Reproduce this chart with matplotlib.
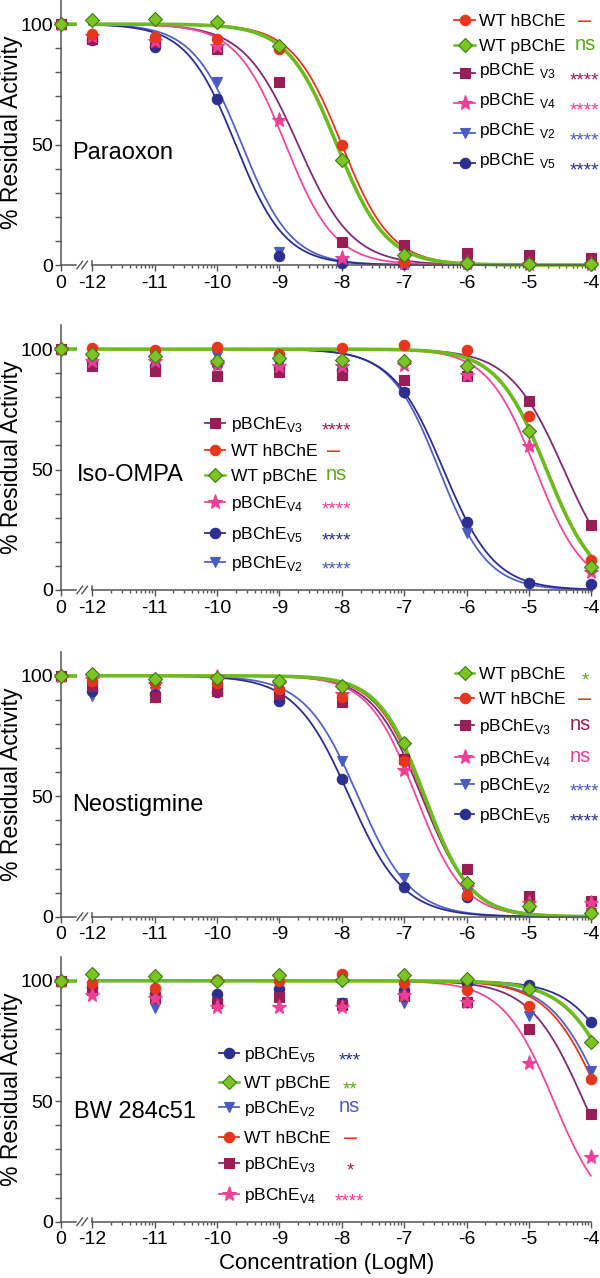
import numpy as np
import matplotlib
matplotlib.use("Agg")
import matplotlib.pyplot as plt
from matplotlib.lines import Line2D
from matplotlib.transforms import Affine2D

plt.rcParams["font.family"] = ["Liberation Sans", "DejaVu Sans"]

W, H = 600, 1278

# log10 molar concentrations; the "0" (no inhibitor) point sits left of the axis break
LOG_CONC = [-12, -11, -10, -9, -8, -7, -6, -5, -4]
ZERO_X = -12.5
X_TICK_LABELS = ["0", "-12", "-11", "-10", "-9", "-8", "-7", "-6", "-5", "-4"]

# % residual activity (one value per LOG_CONC)
PARAOXON = {
    "hB": [96, 94.6, 94, 89.5, 50, 1.4, 0.8, 0.3, 0.3],
    "pB": [101.8, 102, 101, 91, 43.5, 4.1, 1, 0.5, 0.4],
    "V3": [94, 92.5, 89.5, 76, 9.7, 8.3, 5, 4, 3],
    "V4": [95, 93, 91, 60, 2.8, 1, 0.8, 0.3, 0.3],
    "V2": [94, 90.5, 76, 5.5, 1, 0.5, 0.5, 0.5, 0.5],
    "V5": [93.5, 90.5, 69, 3.7, 0.7, 0.3, 0.3, 0.3, 0.3],
}
ISO_OMPA = {
    "hB": [100.4, 99.7, 100.8, 97.9, 100.4, 101.8, 99.7, 72.3, 12.5],
    "pB": [98, 97.2, 94.9, 96.3, 95.6, 94.9, 92.8, 65.8, 9.7],
    "V3": [92.8, 90.9, 88.9, 90.3, 89.3, 87.3, 88.9, 78.3, 27],
    "V4": [95, 95, 93.5, 92.8, 93, 93.5, 89.3, 59.6, 7.6],
    "V2": [95.5, 93.5, 97, 93.5, 91.4, 81.7, 23.5, 2.1, 1.4],
    "V5": [95, 93, 94, 92.4, 91.4, 82.1, 28.4, 2.8, 2.5],
}
NEOSTIGMINE = {
    "hB": [97.9, 97.2, 97.2, 94.5, 91, 64.8, 9, 4.8, 2],
    "pB": [100.7, 98.6, 98.9, 97.9, 95.9, 72, 13.8, 4.6, 1.4],
    "V3": [95.9, 91, 93.8, 92.4, 89, 65.5, 20, 8.6, 6.6],
    "V4": [98.6, 96.6, 99.3, 96.6, 92.4, 61, 12.4, 5.8, 5.8],
    "V2": [91.7, 93.1, 94.5, 90.3, 64.8, 15.9, 9.7, 4.1, 1.4],
    "V5": [93.8, 92.4, 93.1, 89.7, 57, 12.4, 8.3, 4.1, 1.4],
}
BW284C51 = {
    "hB": [99, 97, 100.4, 100, 102.9, 99, 96.3, 89.6, 59.1],
    "pB": [102.9, 101.8, 100, 102.5, 100.4, 102.5, 100.7, 96.5, 74.4],
    "V3": [96.3, 92.8, 90.7, 93.1, 90, 93.5, 91, 80, 44.6],
    "V4": [94.2, 92.8, 89.3, 89.3, 89.3, 94.2, 91.4, 66, 27],
    "V2": [97, 88.6, 90.7, 92, 90.7, 90.7, 90.7, 85.5, 62.7],
    "V5": [97.6, 94.5, 94.5, 96.7, 90.7, 96.3, 99, 98.3, 83.1],
}

# fitted curves: (log IC50, hill slope)
PARAOXON_FIT = {"hB": (-8.0, 1.1), "pB": (-8.08, 1.1), "V3": (-8.7, 1.0),
                "V4": (-8.9, 1.1), "V2": (-9.6, 1.1), "V5": (-9.7, 1.1)}
ISO_OMPA_FIT = {"hB": (-4.71, 1.1), "pB": (-4.72, 1.1), "V3": (-4.44, 1.0),
                "V4": (-4.89, 1.12), "V2": (-6.44, 1.12), "V5": (-6.37, 1.06)}
NEOSTIGMINE_FIT = {"hB": (-6.69, 1.15), "pB": (-6.67, 1.18), "V3": (-6.72, 1.1),
                   "V4": (-6.81, 1.14), "V2": (-7.74, 1.02), "V5": (-7.88, 1.0)}
BW284C51_FIT = {"hB": (-3.83, 1.0), "pB": (-3.5, 1.0), "V3": (-4.12, 1.0),
                "V4": (-4.6, 1.06), "V2": (-3.77, 1.0), "V5": (-3.33, 1.0)}

# significance marks shown next to the legend
PARAOXON_SIG = {"hB": "–", "pB": "ns", "V3": "****", "V4": "****", "V2": "****", "V5": "****"}
ISO_OMPA_SIG = {"hB": "–", "pB": "ns", "V3": "****", "V4": "****", "V2": "****", "V5": "****"}
NEOSTIGMINE_SIG = {"hB": "–", "pB": "*", "V3": "ns", "V4": "ns", "V2": "****", "V5": "****"}
BW284C51_SIG = {"hB": "–", "pB": "**", "V3": "*", "V4": "****", "V2": "ns", "V5": "***"}

STYLE = {
    "hB": dict(marker="o", mfc="#E8351E", mec="#E8351E", ms=7.5, lc="#E8351E", lw=1.3, sc="#E8351E"),
    "pB": dict(marker="D", mfc="#7CC423", mec="#3B7A12", ms=7, lc="#6DBC1F", lw=2.6, sc="#5FA51A"),
    "V3": dict(marker="s", mfc="#9B1D56", mec="#9B1D56", ms=6.5, lc="#7E2B78", lw=1.3, sc="#9B1D56"),
    "V4": dict(marker="*", mfc="#EE3F97", mec="#EE3F97", ms=11, lc="#EE4A9C", lw=1.3, sc="#EE3F97"),
    "V2": dict(marker="v", mfc="#4A5BC2", mec="#4A5BC2", ms=7.5, lc="#5262C6", lw=1.3, sc="#4A5BC2"),
    "V5": dict(marker="o", mfc="#2D2F8E", mec="#2D2F8E", ms=7.5, lc="#2D2F8E", lw=1.3, sc="#2D2F8E"),
}
DRAW_ORDER = ["V2", "V5", "V3", "V4", "hB", "pB"]


def label_for(key, spaced=False):
    if key == "hB":
        return "WT hBChE"
    if key == "pB":
        return "WT pBChE"
    gap = " " if spaced else ""
    return "pBChE" + gap + r"$_{\mathregular{" + key + "}}$"


def logistic(x, c, h):
    return 100.0 / (1.0 + 10.0 ** (h * (x - c)))


# panel layout (pixel units from top-left of the figure)
PANELS = [
    dict(name="Paraoxon", data=PARAOXON, fit=PARAOXON_FIT, sig=PARAOXON_SIG, bottom=265,
         name_xy=(72, 153), order=["hB", "pB", "V3", "V4", "V2", "V5"],
         rows=[20, 45, 73, 103, 133, 163], line_x=(454, 475), text_x=479,
         sig_x=[578, 575, 570, 570, 570, 570], spaced=True),
    dict(name="Iso-OMPA", data=ISO_OMPA, fit=ISO_OMPA_FIT, sig=ISO_OMPA_SIG, bottom=590,
         name_xy=(77, 475), order=["V3", "hB", "pB", "V4", "V5", "V2"],
         rows=[423, 450, 475, 502, 533, 562], line_x=(205, 225), text_x=231,
         sig_x=[322, 327, 326, 322, 322, 322], spaced=False),
    dict(name="Neostigmine", data=NEOSTIGMINE, fit=NEOSTIGMINE_FIT, sig=NEOSTIGMINE_SIG, bottom=916.7,
         name_xy=(72, 805), order=["pB", "hB", "V3", "V4", "V2", "V5"],
         rows=[673, 698, 725, 757, 784, 814], line_x=(455, 474), text_x=479,
         sig_x=[582, 578, 570, 570, 570, 570], spaced=False),
    dict(name="BW 284c51", data=BW284C51, fit=BW284C51_FIT, sig=BW284C51_SIG, bottom=1221.7,
         name_xy=(74, 1112), order=["V5", "pB", "V2", "hB", "V3", "V4"],
         rows=[1053, 1082, 1107, 1137, 1163, 1194], line_x=(219, 239), text_x=244,
         sig_x=[339, 343, 339, 344, 347, 335], spaced=False),
]

AX_LEFT, AX_WIDTH, AX_HEIGHT = 61, 530.3, 265
AXIS_GREY = "#555555"

fig = plt.figure(figsize=(W / 100, H / 100), dpi=100)
T = Affine2D().scale(1.0 / W, -1.0 / H).translate(0, 1) + fig.transFigure

minor_x = [d + np.log10(k) for d in range(-12, -4) for k in range(2, 10)]
seg_left = np.linspace(ZERO_X, -12.25, 10)
seg_right = np.linspace(-12.06, -4, 400)

for p in PANELS:
    ax = fig.add_axes([AX_LEFT / W, 1 - p["bottom"] / H, AX_WIDTH / W, AX_HEIGHT / H])
    ax.set_xlim(ZERO_X, -4)
    ax.set_ylim(0, 110)
    for s in ("top", "right", "bottom"):
        ax.spines[s].set_visible(False)
    ax.spines["left"].set_color(AXIS_GREY)
    ax.spines["left"].set_linewidth(1.1)

    # curves and points
    for key in DRAW_ORDER:
        st = STYLE[key]
        c, h = p["fit"][key]
        for seg in (seg_left, seg_right):
            ax.plot(seg, logistic(seg, c, h), color=st["lc"], lw=st["lw"],
                    clip_on=False, zorder=2, solid_capstyle="butt")
    for key in DRAW_ORDER:
        st = STYLE[key]
        ax.plot([ZERO_X] + LOG_CONC, [100] + p["data"][key], ls="none",
                marker=st["marker"], ms=st["ms"], mfc=st["mfc"], mec=st["mec"],
                mew=0.8, clip_on=False, zorder=3)

    # broken x axis
    xt = ax.get_xaxis_transform()
    ax.plot([ZERO_X, -12.26], [0, 0], color=AXIS_GREY, lw=1.1, transform=xt, clip_on=False)
    ax.plot([-12.0, -4], [0, 0], color=AXIS_GREY, lw=1.1, transform=xt, clip_on=False)
    ax.plot([-12.0, -12.0], [0, 0.014], color=AXIS_GREY, lw=1.1, transform=xt, clip_on=False)
    for cx in (-12.2, -12.12):
        ax.plot([cx - 0.045, cx + 0.045], [-0.014, 0.014], color=AXIS_GREY, lw=1.0,
                transform=xt, clip_on=False)

    ax.set_xticks([ZERO_X] + LOG_CONC)
    ax.set_xticklabels(X_TICK_LABELS)
    ax.set_xticks(minor_x, minor=True)
    ax.set_yticks([0, 50, 100])
    ax.set_yticks([10, 20, 30, 40, 60, 70, 80, 90], minor=True)
    ax.tick_params(axis="both", which="both", direction="out", color=AXIS_GREY,
                   width=1.0, labelsize=14, labelcolor="black")
    ax.tick_params(axis="x", which="major", length=4.5, pad=2.5)
    ax.tick_params(axis="x", which="minor", length=2.5)
    ax.tick_params(axis="y", which="both", length=4.5, pad=1.5)

    top_px = p["bottom"] - AX_HEIGHT
    fig.text(12, top_px + AX_HEIGHT / 2, "% Residual Activity", rotation=90,
             fontsize=16.5, ha="center", va="center", transform=T)
    fig.text(p["name_xy"][0], p["name_xy"][1], p["name"], fontsize=17,
             ha="left", va="center", transform=T)

    # hand-made legend with significance marks
    x0, x1 = p["line_x"]
    for key, y, sx in zip(p["order"], p["rows"], p["sig_x"]):
        st = STYLE[key]
        fig.add_artist(Line2D([x0, x1], [y, y], color=st["lc"], lw=min(st["lw"], 1.8),
                              transform=T))
        fig.add_artist(Line2D([(x0 + x1) / 2], [y], ls="none", marker=st["marker"],
                              ms=st["ms"], mfc=st["mfc"], mec=st["mec"], mew=0.8,
                              transform=T))
        lift = 4 if (p["spaced"] and key.startswith("V")) else 0
        fig.text(p["text_x"], y + 6 - lift, label_for(key, p["spaced"]), fontsize=12.5,
                 ha="left", va="baseline", transform=T)
        mark = p["sig"][key]
        if mark.startswith("*"):
            fig.text(sx, y + 12, mark, fontsize=13.5, color=st["sc"], ha="left",
                     va="baseline", transform=T)
        elif mark == "ns":
            fig.text(sx, y + 5, mark, fontsize=14.5, color=st["sc"], ha="left",
                     va="baseline", transform=T)
        else:
            fig.text(sx, y + 7, mark, fontsize=17, color=st["sc"], ha="left",
                     va="baseline", transform=T)

fig.text(AX_LEFT + AX_WIDTH / 2, 1263, "Concentration (LogM)", fontsize=16,
         ha="center", va="center", transform=T)

fig.savefig("out.png", dpi=100)
